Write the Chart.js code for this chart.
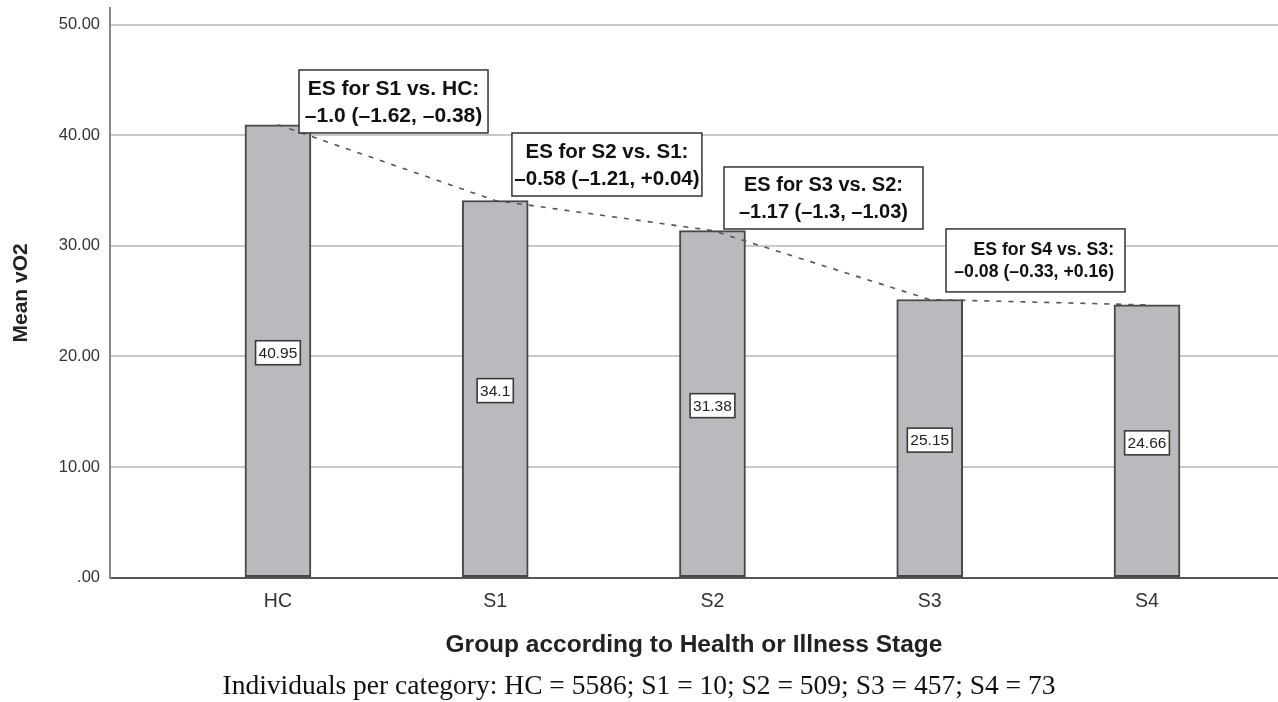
<!DOCTYPE html>
<html><head><meta charset="utf-8">
<script src="https://cdn.jsdelivr.net/npm/chart.js@4/dist/chart.umd.min.js"></script>
<style>html,body{margin:0;padding:0;background:#fff;overflow:hidden}</style>
</head><body>
<canvas id="c" width="1278" height="702" style="display:block;width:1278px;height:702px"></canvas>
<script>
const categories = ['HC', 'S1', 'S2', 'S3', 'S4'];
const meanVO2 = [40.95, 34.1, 31.38, 25.15, 24.66];
const yTicks = [0, 10, 20, 30, 40, 50];
const yTickLabels = ['.00', '10.00', '20.00', '30.00', '40.00', '50.00'];
const esTitles = ['ES for S1 vs. HC:', 'ES for S2 vs. S1:', 'ES for S3 vs. S2:', 'ES for S4 vs. S3:'];
const esValues = ['\u20131.0 (\u20131.62, \u20130.38)', '\u20130.58 (\u20131.21, +0.04)', '\u20131.17 (\u20131.3, \u20131.03)', '\u20130.08 (\u20130.33, +0.16)'];
const caption = 'Individuals per category: HC = 5586; S1 = 10; S2 = 509; S3 = 457; S4 = 73';

// annotation box placement (data units for anchor, px for size)
const esBoxLayout = [
  {x: 0.097, y: 45.9,  w: 189, h: 63, font: 21,   lh: 27, align: 'center'},
  {x: 1.077, y: 40.2,  w: 190, h: 63, font: 20.5, lh: 27, align: 'center'},
  {x: 2.053, y: 37.13, w: 199, h: 62, font: 20,   lh: 27, align: 'center'},
  {x: 3.075, y: 31.53, w: 179, h: 63, font: 17.7, lh: 22, align: 'right'}
];

const SANS = 'Liberation Sans, Arial, sans-serif';
const points = categories.map((c, i) => ({x: i, y: meanVO2[i]}));

const valueLabels = {
  id: 'valueLabels',
  afterDatasetsDraw(chart) {
    const ctx = chart.ctx;
    const meta = chart.getDatasetMeta(0);
    ctx.save();
    ctx.font = '15.5px ' + SANS;
    ctx.textAlign = 'center';
    ctx.textBaseline = 'middle';
    meta.data.forEach((el, i) => {
      const t = String(meanVO2[i]);
      const cy = (el.y + el.base) / 2 + 2;
      const w = ctx.measureText(t).width + 6;
      const h = 24;
      ctx.fillStyle = '#fff';
      ctx.fillRect(el.x - w / 2, cy - h / 2, w, h);
      ctx.strokeStyle = '#3a3a3a';
      ctx.lineWidth = 1.6;
      ctx.strokeRect(el.x - w / 2, cy - h / 2, w, h);
      ctx.fillStyle = '#222';
      ctx.fillText(t, el.x, cy + 1);
    });
    ctx.restore();
  }
};

const esBoxes = {
  id: 'esBoxes',
  afterDraw(chart) {
    const ctx = chart.ctx;
    const xs = chart.scales.x, ys = chart.scales.y;
    ctx.save();
    esBoxLayout.forEach((b, i) => {
      const px = xs.getPixelForValue(b.x);
      const py = ys.getPixelForValue(b.y);
      ctx.fillStyle = '#fff';
      ctx.fillRect(px, py, b.w, b.h);
      ctx.strokeStyle = '#333';
      ctx.lineWidth = 1.5;
      ctx.strokeRect(px, py, b.w, b.h);
      ctx.fillStyle = '#111';
      ctx.font = 'bold ' + b.font + 'px ' + SANS;
      ctx.textAlign = b.align;
      ctx.textBaseline = 'middle';
      const cx = b.align === 'right' ? px + b.w - 11 : px + b.w / 2;
      const cy = py + b.h / 2;
      ctx.fillText(esTitles[i], cx, cy - b.lh / 2 + 1);
      ctx.fillText(esValues[i], cx, cy + b.lh / 2 + 1);
    });
    ctx.restore();
  }
};

new Chart(document.getElementById('c'), {
  data: {
    datasets: [
      {
        type: 'bar', data: points, backgroundColor: '#b9babe', borderColor: '#474747',
        borderWidth: 2, borderSkipped: false, barThickness: 66, order: 2
      },
      {
        type: 'line', data: points, borderColor: '#555', borderWidth: 1.6,
        borderDash: [5, 7], pointRadius: 0, fill: false, order: 1
      }
    ]
  },
  options: {
    responsive: false,
    animation: false,
    devicePixelRatio: 1,
    layout: {padding: {top: 8, left: 0, right: 0, bottom: 0}},
    plugins: {
      legend: {display: false},
      tooltip: {enabled: false},
      title: {
        display: true, position: 'bottom', text: caption,
        font: {family: 'Liberation Serif, Times New Roman, serif', size: 27.5, weight: 'normal', lineHeight: 1.1},
        color: '#111', padding: {top: 0, bottom: 0}
      }
    },
    scales: {
      x: {
        type: 'linear', min: -0.773, max: 4.603, offset: false,
        afterBuildTicks: s => { s.ticks = categories.map((c, i) => ({value: i})); },
        grid: {display: false, drawTicks: false, offset: false},
        border: {display: true, color: '#555', width: 2},
        ticks: {
          autoSkip: false, maxRotation: 0, padding: 12,
          font: {family: SANS, size: 19.5}, color: '#333',
          callback: v => categories[v] ?? ''
        },
        title: {
          display: true, text: 'Group according to Health or Illness Stage',
          font: {family: SANS, size: 24.5, weight: 'bold'}, color: '#222',
          padding: {top: 0, bottom: 12}
        },
        afterFit: s => { s.height = 94; }
      },
      y: {
        min: 0, max: 51.5,
        afterBuildTicks: s => { s.ticks = yTicks.map(v => ({value: v})); },
        grid: {color: '#c8c8c8', lineWidth: 2, drawTicks: false},
        border: {display: true, color: '#888', width: 2},
        ticks: {
          padding: 10, font: {family: SANS, size: 16.5}, color: '#333',
          callback: v => yTickLabels[yTicks.indexOf(v)]
        },
        title: {
          display: true, text: 'Mean vO2',
          font: {family: SANS, size: 21, weight: 'bold'}, color: '#222',
          padding: {top: 9, bottom: 0}
        },
        afterFit: s => { s.width = 110; s.paddingTop = 0; s.paddingBottom = 0; }
      }
    }
  },
  plugins: [valueLabels, esBoxes]
});
</script>
</body></html>
